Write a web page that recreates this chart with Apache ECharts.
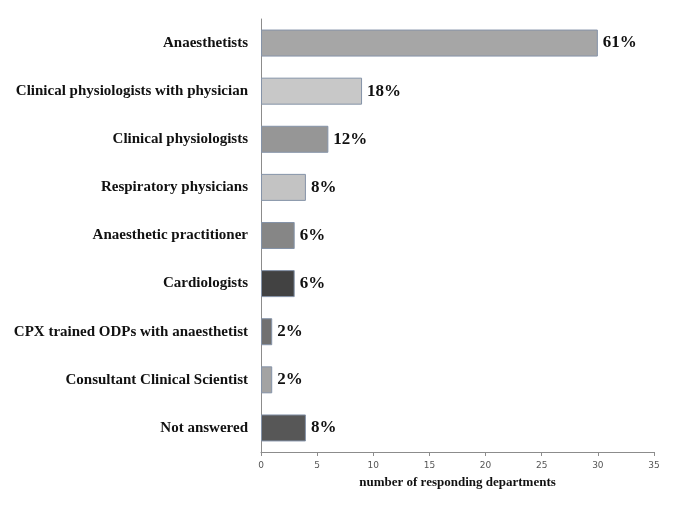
<!DOCTYPE html>
<html><head><meta charset="utf-8">
<script src="https://cdn.jsdelivr.net/npm/echarts@6/dist/echarts.min.js"></script>
<style>html,body{margin:0;padding:0;background:#fff}#c{width:685px;height:513px}</style>
</head><body><div id="c"></div>
<script>
const categories = ["Anaesthetists","Clinical physiologists with physician","Clinical physiologists","Respiratory physicians","Anaesthetic practitioner","Cardiologists","CPX trained ODPs with anaesthetist","Consultant Clinical Scientist","Not answered"];
const values = [30, 9, 6, 4, 3, 3, 1, 1, 4];
const percentLabels = ["61%","18%","12%","8%","6%","6%","2%","2%","8%"];
const barColors = ["#a6a6a6","#c8c8c8","#969696","#c3c3c3","#868686","#424242","#717171","#a3a3a3","#575757"];

const chart = echarts.init(document.getElementById('c'));
const data = values.map((v,i)=>({value:v, itemStyle:{color:barColors[i]}, label:{formatter:percentLabels[i]}}));
chart.setOption({
  animation:false,
  grid:{left:261,right:31,top:19,bottom:61,containLabel:false},
  xAxis:{type:'value',min:0,max:35,interval:5,
    axisLine:{show:true,lineStyle:{color:'#8c8c8c'}},
    axisTick:{show:true,length:4,lineStyle:{color:'#8c8c8c'}},
    splitLine:{show:false},
    axisLabel:{color:'#555',fontSize:9,fontFamily:'DejaVu Sans',margin:9},
    name:'number of responding departments',nameLocation:'middle',nameGap:24,
    nameTextStyle:{fontFamily:'Liberation Serif',fontWeight:'bold',fontSize:13,color:'#111'}},
  yAxis:{type:'category',data:categories,inverse:true,
    axisLine:{show:true,lineStyle:{color:'#8c8c8c'}},
    axisTick:{show:false},
    axisLabel:{fontFamily:'Liberation Serif',fontWeight:'bold',fontSize:15,color:'#111',margin:13}},
  series:[{type:'bar',data:data,barWidth:27,
    itemStyle:{borderColor:'#8593a8',borderWidth:1},
    label:{show:true,position:'right',distance:5,fontFamily:'Liberation Serif',fontWeight:'bold',fontSize:17,color:'#111'}}]
});
</script></body></html>
